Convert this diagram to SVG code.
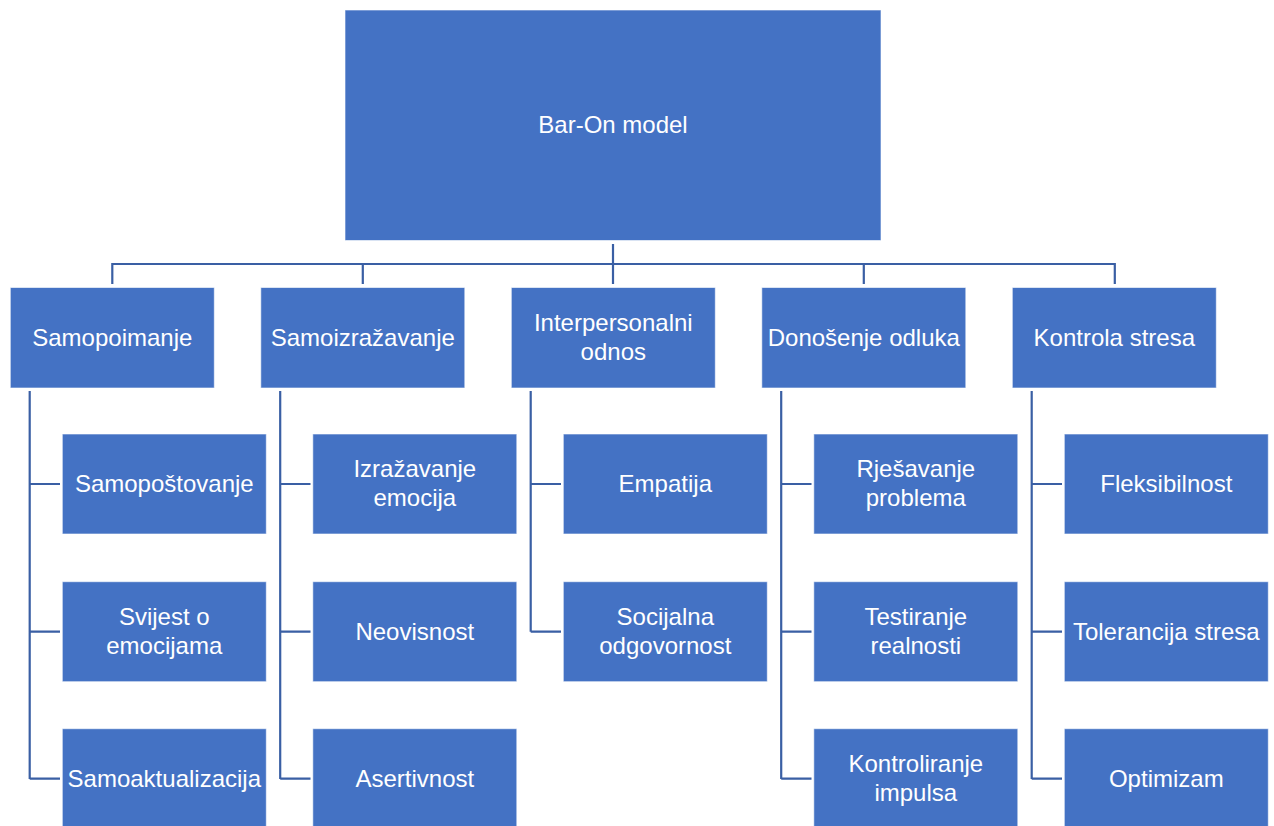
<svg xmlns="http://www.w3.org/2000/svg" width="1274" height="826" viewBox="0 0 1274 826">
<style>
.b{fill:#4472C4;stroke:#ffffff;stroke-width:1;stroke-opacity:0.6}
.t{font-family:"Liberation Sans",Arial,sans-serif;font-size:24px;fill:#ffffff;text-anchor:middle}
.c{fill:none;stroke:#3A5FA4;stroke-width:2.2}
</style>
<rect width="1274" height="826" fill="#ffffff"/>
<g id="connectors" class="c">
<path d="M613 244V284M112.3 284V264H1114.8V284M362.8 264V284M863.8 264V284"/>
<path d="M29.7 391V779M29.7 484H60M29.7 631.7H60M29.7 778.7H60"/>
<path d="M280.2 391V779M280.2 484H310.5M280.2 631.7H310.5M280.2 778.7H310.5"/>
<path d="M530.7 391V631.7M530.7 484H561M530.7 631.7H561"/>
<path d="M781.2 391V779M781.2 484H811.5M781.2 631.7H811.5M781.2 778.7H811.5"/>
<path d="M1031.7 391V779M1031.7 484H1062M1031.7 631.7H1062M1031.7 778.7H1062"/>
</g>
<g id="root"><rect class="b" x="345" y="10" width="536" height="230.5"/><text class="t" x="613" y="133">Bar-On model</text></g>
<g id="samopoimanje"><rect class="b" x="10.3" y="287.5" width="204" height="100.5"/><text class="t" x="112.3" y="345.7">Samopoimanje</text></g>
<g id="samoizrazavanje"><rect class="b" x="260.8" y="287.5" width="204" height="100.5"/><text class="t" x="362.8" y="345.7">Samoizražavanje</text></g>
<g id="interpersonalni"><rect class="b" x="511.3" y="287.5" width="204" height="100.5"/><text class="t" x="613.3" y="331">Interpersonalni</text><text class="t" x="613.3" y="360">odnos</text></g>
<g id="donosenje"><rect class="b" x="761.8" y="287.5" width="204" height="100.5"/><text class="t" x="863.8" y="345.7">Donošenje odluka</text></g>
<g id="kontrola"><rect class="b" x="1012.3" y="287.5" width="204" height="100.5"/><text class="t" x="1114.3" y="345.7">Kontrola stresa</text></g>

<g id="samopostovanje"><rect class="b" x="62.3" y="434" width="204" height="100"/><text class="t" x="164.3" y="492">Samopoštovanje</text></g>
<g id="svijest"><rect class="b" x="62.3" y="581.7" width="204" height="100"/><text class="t" x="164.3" y="625">Svijest o</text><text class="t" x="164.3" y="654">emocijama</text></g>
<g id="samoaktualizacija"><rect class="b" x="62.3" y="728.7" width="204" height="100"/><text class="t" x="164.3" y="786.7">Samoaktualizacija</text></g>

<g id="izrazavanje"><rect class="b" x="312.8" y="434" width="204" height="100"/><text class="t" x="414.8" y="477.3">Izražavanje</text><text class="t" x="414.8" y="506.3">emocija</text></g>
<g id="neovisnost"><rect class="b" x="312.8" y="581.7" width="204" height="100"/><text class="t" x="414.8" y="639.7">Neovisnost</text></g>
<g id="asertivnost"><rect class="b" x="312.8" y="728.7" width="204" height="100"/><text class="t" x="414.8" y="786.7">Asertivnost</text></g>

<g id="empatija"><rect class="b" x="563.3" y="434" width="204" height="100"/><text class="t" x="665.3" y="492">Empatija</text></g>
<g id="socijalna"><rect class="b" x="563.3" y="581.7" width="204" height="100"/><text class="t" x="665.3" y="625">Socijalna</text><text class="t" x="665.3" y="654">odgovornost</text></g>

<g id="rjesavanje"><rect class="b" x="813.8" y="434" width="204" height="100"/><text class="t" x="915.8" y="477.3">Rješavanje</text><text class="t" x="915.8" y="506.3">problema</text></g>
<g id="testiranje"><rect class="b" x="813.8" y="581.7" width="204" height="100"/><text class="t" x="915.8" y="625">Testiranje</text><text class="t" x="915.8" y="654">realnosti</text></g>
<g id="kontroliranje"><rect class="b" x="813.8" y="728.7" width="204" height="100"/><text class="t" x="915.8" y="772">Kontroliranje</text><text class="t" x="915.8" y="801">impulsa</text></g>

<g id="fleksibilnost"><rect class="b" x="1064.3" y="434" width="204" height="100"/><text class="t" x="1166.3" y="492">Fleksibilnost</text></g>
<g id="tolerancija"><rect class="b" x="1064.3" y="581.7" width="204" height="100"/><text class="t" x="1166.3" y="639.7">Tolerancija stresa</text></g>
<g id="optimizam"><rect class="b" x="1064.3" y="728.7" width="204" height="100"/><text class="t" x="1166.3" y="786.7">Optimizam</text></g>
</svg>
